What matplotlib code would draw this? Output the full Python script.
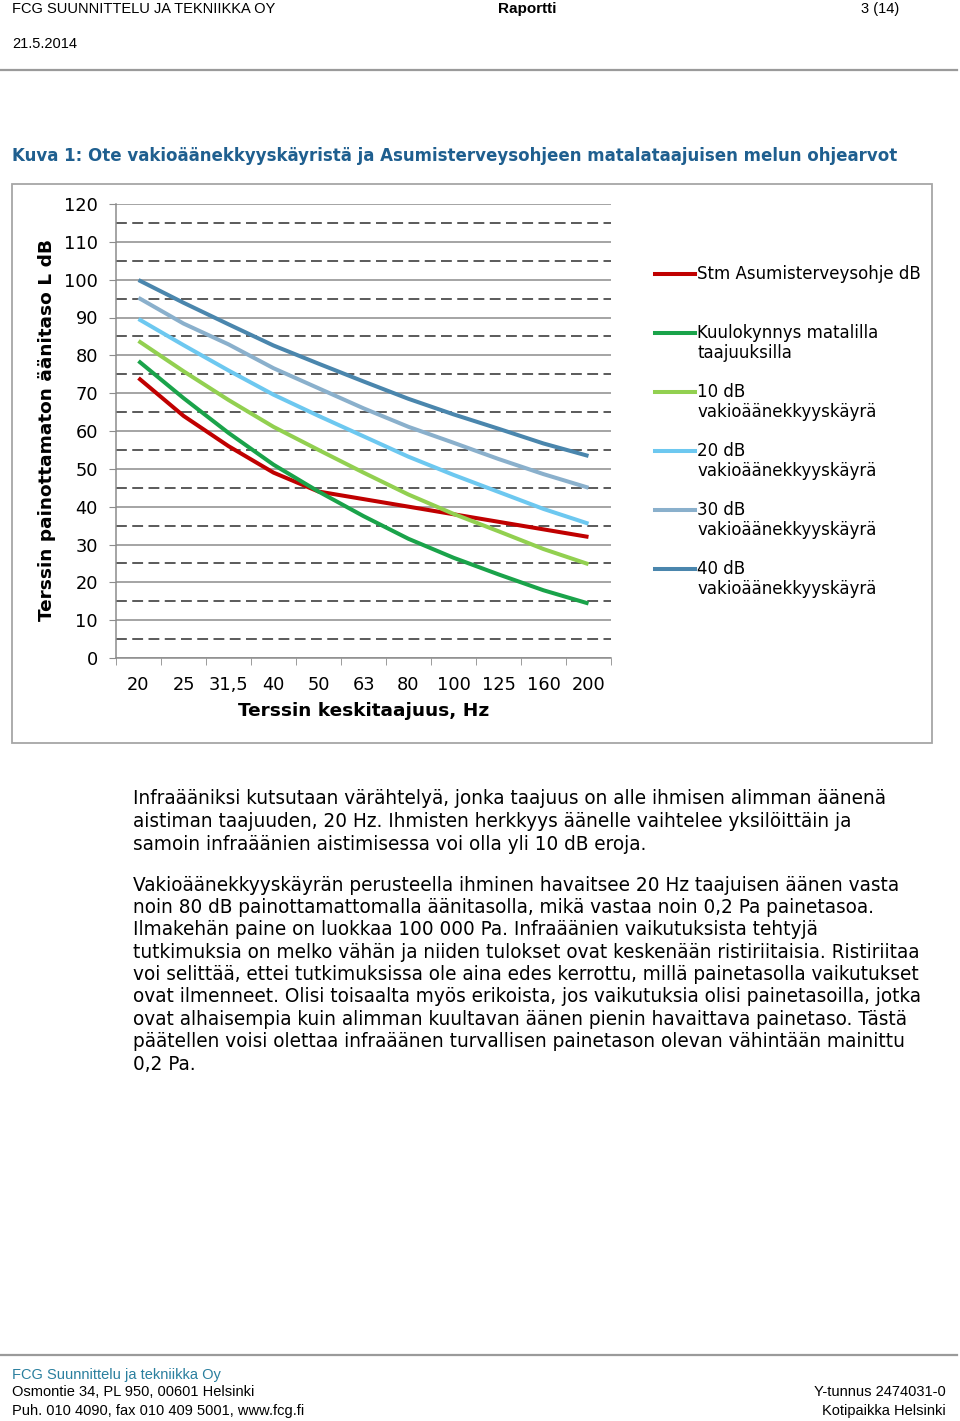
import matplotlib
matplotlib.use("Agg")
import matplotlib.pyplot as plt
from matplotlib.lines import Line2D
from matplotlib.patches import Rectangle

plt.rcParams['font.family'] = ['DejaVu Sans']
HDR_FONT = ['Liberation Sans', 'DejaVu Sans']   # ylä- ja alatunniste

W, H = 960, 1421

############################ DATA ############################

freqs = ['20', '25', '31,5', '40', '50', '63', '80', '100', '125', '160', '200']

stm_ohje    = [74, 64, 56, 49, 44, 42, 40, 38, 36, 34, 32]
kuulokynnys = [78.5, 68.7, 59.5, 51.1, 44.0, 37.5, 31.5, 26.5, 22.1, 17.9, 14.4]
phon_10     = [83.8, 75.8, 68.2, 61.1, 55.0, 49.0, 43.2, 38.1, 33.5, 28.8, 24.8]
phon_20     = [89.6, 82.7, 76.0, 69.6, 64.0, 58.6, 53.2, 48.4, 43.9, 39.4, 35.5]
phon_30     = [95.2, 88.4, 82.9, 76.6, 71.3, 66.0, 61.1, 56.9, 52.6, 48.6, 45.0]
phon_40     = [99.9, 93.9, 88.2, 82.6, 77.8, 73.1, 68.5, 64.4, 60.6, 56.7, 53.4]

series = [
    (['Stm Asumisterveysohje dB'],               stm_ohje,    '#c00000'),
    (['Kuulokynnys matalilla', 'taajuuksilla'],  kuulokynnys, '#1aa34a'),
    (['10 dB', 'vakioäänekkyyskäyrä'],           phon_10,     '#92d050'),
    (['20 dB', 'vakioäänekkyyskäyrä'],           phon_20,     '#6dc8f0'),
    (['30 dB', 'vakioäänekkyyskäyrä'],           phon_30,     '#8ab0cc'),
    (['40 dB', 'vakioäänekkyyskäyrä'],           phon_40,     '#4a86ad'),
]

para1 = ["Infraääniksi kutsutaan värähtelyä, jonka taajuus on alle ihmisen alimman äänenä",
         "aistiman taajuuden, 20 Hz. Ihmisten herkkyys äänelle vaihtelee yksilöittäin ja",
         "samoin infraäänien aistimisessa voi olla yli 10 dB eroja."]
para2 = ["Vakioäänekkyyskäyrän perusteella ihminen havaitsee 20 Hz taajuisen äänen vasta",
         "noin 80 dB painottamattomalla äänitasolla, mikä vastaa noin 0,2 Pa painetasoa.",
         "Ilmakehän paine on luokkaa 100 000 Pa. Infraäänien vaikutuksista tehtyjä",
         "tutkimuksia on melko vähän ja niiden tulokset ovat keskenään ristiriitaisia. Ristiriitaa",
         "voi selittää, ettei tutkimuksissa ole aina edes kerrottu, millä painetasolla vaikutukset",
         "ovat ilmenneet. Olisi toisaalta myös erikoista, jos vaikutuksia olisi painetasoilla, jotka",
         "ovat alhaisempia kuin alimman kuultavan äänen pienin havaittava painetaso. Tästä",
         "päätellen voisi olettaa infraäänen turvallisen painetason olevan vähintään mainittu",
         "0,2 Pa."]

############################ HELPERS ############################

def fx(x): return x / W
def fy(y): return 1 - y / H

fig = plt.figure(figsize=(W / 100, H / 100), dpi=100)
fig.patch.set_facecolor('white')

def ftext(x, y, s, **kw):
    kw.setdefault('va', 'center')
    kw.setdefault('fontsize', 10.5)
    fig.text(fx(x), fy(y), s, **kw)

def hline(y, x0, x1, color='#a6a6a6', lw=1.5):
    fig.add_artist(Line2D([fx(x0), fx(x1)], [fy(y), fy(y)], transform=fig.transFigure,
                          color=color, lw=lw))

############################ HEADER ############################

ftext(12, 9, 'FCG SUUNNITTELU JA TEKNIIKKA OY', fontsize=10.5, family=HDR_FONT)
ftext(527, 9, 'Raportti', fontsize=11, fontweight='bold', ha='center', family=HDR_FONT)
ftext(899, 9, '3 (14)', fontsize=10.5, ha='right', family=HDR_FONT)
ftext(12, 44, '21.5.2014', fontsize=10.5, family=HDR_FONT)
hline(70, 0, 957, color='#9a9a9a', lw=1.6)

ftext(12, 156, 'Kuva 1: Ote vakioäänekkyyskäyristä ja Asumisterveysohjeen matalataajuisen melun ohjearvot',
      fontsize=12, fontweight='bold', color='#1f5f8f')

############################ CHART ############################

fig.add_artist(Rectangle((fx(12), fy(743)), fx(932) - fx(12), fy(184) - fy(743),
                         transform=fig.transFigure, fill=False, ec='#a6a6a6', lw=1.3))

ax = fig.add_axes([fx(116), fy(658), fx(611) - fx(116), fy(204) - fy(658)])
x = list(range(len(freqs)))
for label, vals, col in series:
    ax.plot(x, vals, color=col, lw=2.9, solid_capstyle='butt', zorder=3)

ax.set_xlim(-0.5, len(freqs) - 0.5)
ax.set_ylim(0, 120)
ax.set_yticks(range(0, 121, 10))
ax.set_yticks(range(5, 120, 10), minor=True)
ax.set_xticks(x)
ax.set_xticklabels(freqs)
ax.set_xticks([i - 0.5 for i in range(len(freqs) + 1)], minor=True)

ax.grid(axis='y', which='major', color='#8c8c8c', lw=1.1, zorder=1)
ax.grid(axis='y', which='minor', color='#4d4d4d', lw=1.3, ls=(0, (6, 3)), zorder=1)

for s in ['top', 'right']:
    ax.spines[s].set_visible(False)
for s in ['left', 'bottom']:
    ax.spines[s].set_color('#8c8c8c')
    ax.spines[s].set_linewidth(1.1)

ax.tick_params(axis='y', which='major', length=5, color='#8c8c8c', labelsize=12.8, pad=8)
ax.tick_params(axis='y', which='minor', length=0)
ax.tick_params(axis='x', which='major', length=0, labelsize=12.8, pad=13)
ax.tick_params(axis='x', which='minor', length=5, color='#8c8c8c')

ax.set_xlabel('Terssin keskitaajuus, Hz', fontsize=13.3, fontweight='bold', labelpad=6)
ax.set_ylabel('Terssin painottamaton äänitaso L dB', fontsize=13.3, fontweight='bold', va='center')
ax.yaxis.set_label_coords(fx(47), fy(430), transform=fig.transFigure)

# selitteet
for i, (label, vals, col) in enumerate(series):
    yy = 274 + 59 * i
    fig.add_artist(Line2D([fx(655), fx(695)], [fy(yy), fy(yy)], transform=fig.transFigure,
                          color=col, lw=2.9))
    for j, part in enumerate(label):
        ftext(697, yy + 20 * j, part, fontsize=12)

############################ BODY TEXT ############################

for k, line in enumerate(para1):
    ftext(133, 799 + 22.5 * k, line, fontsize=13.35)
for k, line in enumerate(para2):
    ftext(133, 885 + 22.4 * k, line, fontsize=13.35)

############################ FOOTER ############################

hline(1355, 0, 957, color='#9a9a9a', lw=1.6)
ftext(12, 1375, 'FCG Suunnittelu ja tekniikka Oy', fontsize=10.5, color='#2a7f9e', family=HDR_FONT)
ftext(12, 1392, 'Osmontie 34, PL 950, 00601 Helsinki', fontsize=10.5, family=HDR_FONT)
ftext(12, 1411, 'Puh. 010 4090, fax 010 409 5001, www.fcg.fi', fontsize=10.5, family=HDR_FONT)
ftext(946, 1392, 'Y-tunnus 2474031-0', fontsize=10.5, ha='right', family=HDR_FONT)
ftext(946, 1411, 'Kotipaikka Helsinki', fontsize=10.5, ha='right', family=HDR_FONT)

fig.savefig('out.png', dpi=100, facecolor='white')
